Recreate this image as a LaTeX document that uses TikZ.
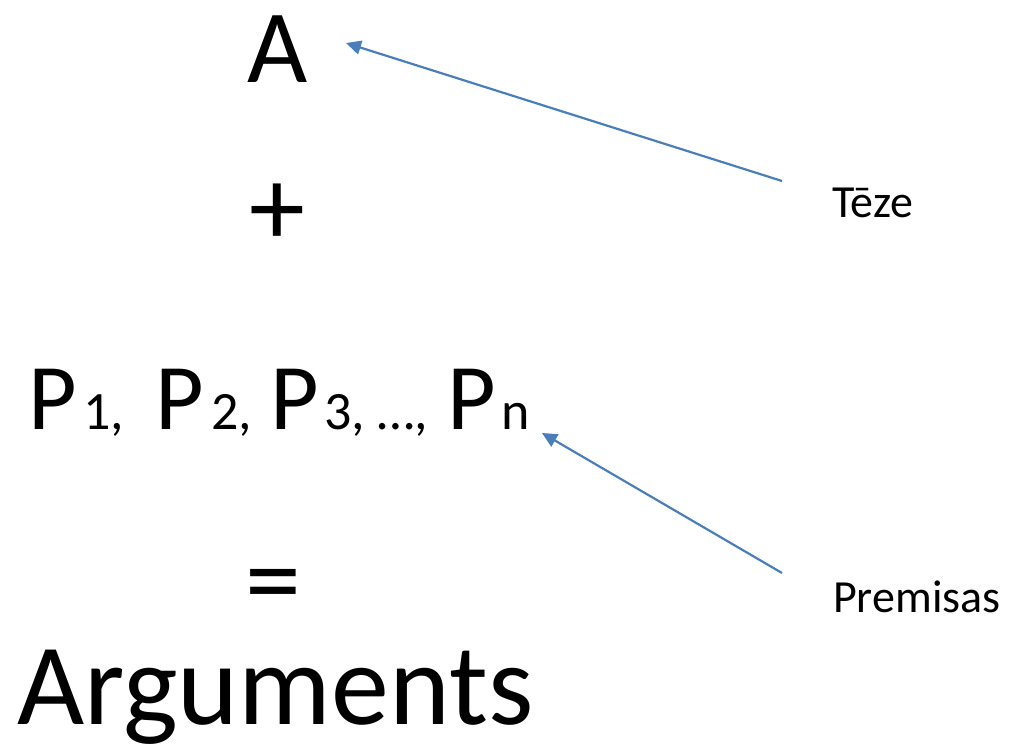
\documentclass[tikz,border=0pt]{standalone}
\usepackage{fontspec}
\setmainfont{Carlito}
\usetikzlibrary{arrows.meta}
\definecolor{offblue}{HTML}{4A7EBB}
\newcommand{\fs}[1]{\fontsize{#1}{#1}\selectfont}
\begin{document}
\begin{tikzpicture}[x=1pt,y=-1pt,
  big/.style={inner sep=0pt,anchor=base},
  pbig/.style={inner sep=0pt,anchor=base west,font=\fs{94}},
  psub/.style={inner sep=0pt,anchor=base west,font=\fs{54}},
  lbl/.style={inner sep=0pt,anchor=base west,font=\fs{46}},
  pointer/.style={draw=offblue,line width=2.2pt,-{Triangle[length=15pt,width=14pt]}}]
\useasboundingbox (0,0) rectangle (1018,751);
\node[big,font=\fs{104}] (a) at (278,83) {A};
\node[big,font=\fs{112}] (plus) at (277,246) {+};
\node[pbig] (p1) at (28,429) {P};
\node[psub] (s1) at (83,429) {1,};
\node[pbig] (p2) at (155,429) {P};
\node[psub] (s2) at (211,429) {2,};
\node[pbig] (p3) at (270,429) {P};
\node[psub] (s3) at (324,429) {3, …,};
\node[pbig] (pn) at (447,429) {P};
\node[psub] (sn) at (501,429) {n};
\node[big,font=\fs{112}] (eq) at (273,617) {=};
\node[big,anchor=base west,font=\fs{116}] (arg) at (17,724) {Arguments};
\node[lbl] (teze) at (832,218) {Tēze};
\node[lbl] (prem) at (833,612) {Premisas};
\coordinate (t1) at (782,181);
\coordinate (t2) at (346,43);
\coordinate (q1) at (782,573);
\coordinate (q2) at (542,433);
\draw[pointer] (t1) -- (t2);
\draw[pointer] (q1) -- (q2);
\end{tikzpicture}
\end{document}
